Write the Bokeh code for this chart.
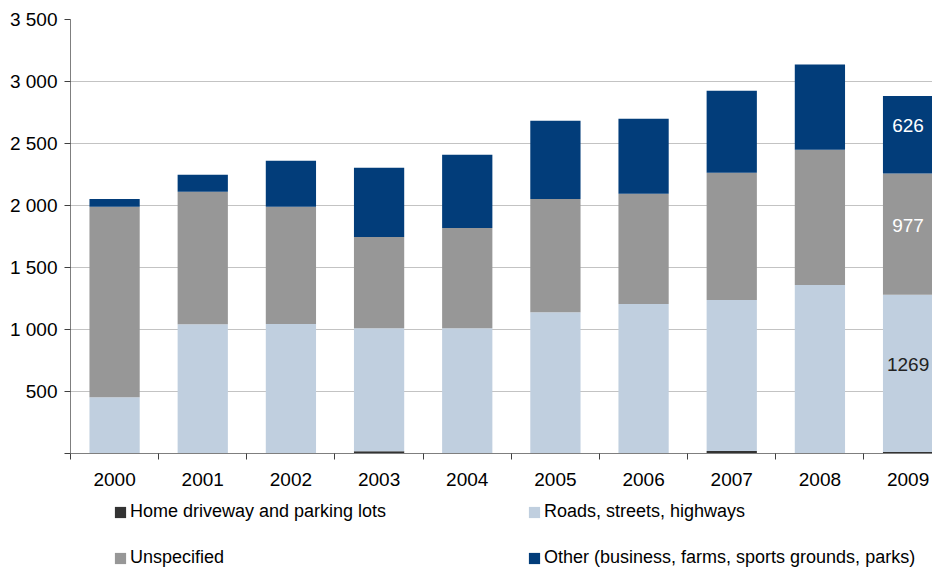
from bokeh.plotting import figure
from bokeh.layouts import column
from bokeh.models import ColumnDataSource, Range1d, FixedTicker, Legend, LegendItem
from bokeh.core.properties import value
from bokeh.embed import file_html
from bokeh.resources import INLINE

years = ["2000", "2001", "2002", "2003", "2004", "2005", "2006", "2007", "2008", "2009"]
home = [0, 0, 4, 18, 0, 4, 4, 20, 4, 12]
roads = [453, 1043, 1041, 992, 1010, 1136, 1201, 1217, 1354, 1269]
unspecified = [1536, 1067, 944, 736, 809, 913, 889, 1027, 1091, 977]
other = [64, 137, 371, 558, 590, 631, 606, 662, 688, 626]

series_names = ["Home driveway and parking lots", "Roads, streets, highways",
                "Unspecified", "Other (business, farms, sports grounds, parks)"]
series_colors = ["#333333", "#c0cfdf", "#979797", "#023d7a"]

y_ticks = [0, 500, 1000, 1500, 2000, 2500, 3000, 3500]
y_tick_labels = ["", "500", "1 000", "1 500", "2 000", "2 500", "3 000", "3 500"]

FONT = "Liberation Sans"

xs = list(range(len(years)))
src = ColumnDataSource(dict(x=xs, home=home, roads=roads, unspecified=unspecified, other=other))

p = figure(width=932, height=497, output_backend="svg", toolbar_location=None,
           x_range=Range1d(-0.5, 9.277), y_range=Range1d(0, 3500),
           min_border_left=70, min_border_right=0, min_border_top=19, min_border_bottom=44)
p.outline_line_color = None
p.background_fill_color = "white"

renderers = p.vbar_stack(["home", "roads", "unspecified", "other"], x="x", width=0.57,
                         color=series_colors, source=src, line_color=None)

# grid
p.xgrid.grid_line_color = None
p.ygrid.grid_line_color = "#c3c3c3"
p.ygrid.ticker = FixedTicker(ticks=y_ticks)

# y axis
p.yaxis.ticker = FixedTicker(ticks=y_ticks)
p.yaxis.major_label_overrides = {t: l for t, l in zip(y_ticks, y_tick_labels)}
p.yaxis.axis_line_color = "#7f7f7f"
p.yaxis.major_tick_line_color = "#404040"
p.yaxis.major_tick_out = 6
p.yaxis.major_tick_in = 0
p.yaxis.minor_tick_line_color = None
p.yaxis.major_label_standoff = 7
p.yaxis.major_label_text_font = FONT
p.yaxis.major_label_text_font_size = "19px"
p.yaxis.major_label_text_color = "#000000"

# x axis
p.xaxis.ticker = FixedTicker(ticks=xs, minor_ticks=[i - 0.5 for i in range(len(years) + 1)])
p.xaxis.major_label_overrides = {i: y for i, y in zip(xs, years)}
p.xaxis.axis_line_color = "#7f7f7f"
p.xaxis.major_tick_line_color = None
p.xaxis.major_tick_out = 6
p.xaxis.major_tick_in = 0
p.xaxis.minor_tick_line_color = "#404040"
p.xaxis.minor_tick_out = 6
p.xaxis.minor_tick_in = 0
p.xaxis.major_label_standoff = 13
p.xaxis.major_label_text_font = FONT
p.xaxis.major_label_text_font_size = "19px"
p.xaxis.major_label_text_color = "#000000"

# value labels for last year
i = len(years) - 1
b0 = home[i]
b1 = b0 + roads[i]
b2 = b1 + unspecified[i]
b3 = b2 + other[i]
lab_src = ColumnDataSource(dict(
    x=[i, i, i],
    y=[(b0 + b1) / 2, (b1 + b2) / 2, (b2 + b3) / 2],
    t=[str(roads[i]), str(unspecified[i]), str(other[i])],
    c=["#222222", "#ffffff", "#ffffff"],
))
p.text(x="x", y="y", text="t", source=lab_src, text_color="c",
       text_align="center", text_baseline="middle", y_offset=-9,
       text_font=value(FONT), text_font_size="19px")

# legend in its own strip below the chart (swatch-only renderers of zero height)
lf = figure(width=932, height=71, output_backend="svg", toolbar_location=None,
            x_axis_type=None, y_axis_type=None, x_range=Range1d(0, 1), y_range=Range1d(0, 1),
            min_border_left=0, min_border_right=0, min_border_top=0, min_border_bottom=0)
lf.outline_line_color = None
lf.xgrid.visible = False
lf.ygrid.visible = False
leg_renderers = [lf.vbar(x=[0], top=[0], bottom=[0], width=0.0, color=c, line_color=None)
                 for c in series_colors]
items = [LegendItem(label=n, renderers=[r]) for n, r in zip(series_names, leg_renderers)]
legend = Legend(items=items, ncols=2, orientation="horizontal",
                location=(43, 0), glyph_width=14, glyph_height=14,
                label_standoff=3, label_width=372, label_height=20, spacing=25,
                padding=0, margin=0, border_line_color=None, background_fill_alpha=0,
                label_text_font=FONT, label_text_font_size="18px",
                label_text_color="#000000")
lf.add_layout(legend, "center")

layout = column(p, lf, spacing=0)
open("out.html", "w").write(file_html(layout, INLINE))
